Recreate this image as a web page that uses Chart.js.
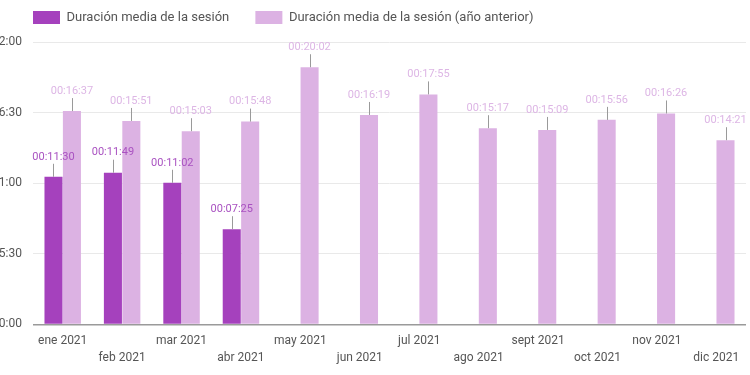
<!DOCTYPE html>
<html>
<head>
<meta charset="utf-8">
<script src="https://cdn.jsdelivr.net/npm/chart.js@4.4.1/dist/chart.umd.min.js"></script>
<style>
  html, body { margin: 0; padding: 0; background: #fff; }
  #wrap { position: relative; width: 750px; height: 375px; }
</style>
</head>
<body>
<div id="wrap"><canvas id="sessionChart"></canvas></div>
<script>
const months = ['ene 2021', 'feb 2021', 'mar 2021', 'abr 2021', 'may 2021', 'jun 2021',
  'jul 2021', 'ago 2021', 'sept 2021', 'oct 2021', 'nov 2021', 'dic 2021'];
const currentYear = ['00:11:30', '00:11:49', '00:11:02', '00:07:25', null, null,
  null, null, null, null, null, null];
const previousYear = ['00:16:37', '00:15:51', '00:15:03', '00:15:48', '00:20:02', '00:16:19',
  '00:17:55', '00:15:17', '00:15:09', '00:15:56', '00:16:26', '00:14:21'];
const yTicks = ['00:00:00', '00:05:30', '00:11:00', '00:16:30', '00:22:00'];

const DARK = '#a541bd';
const LIGHT = '#dcb2e3';

function toSeconds(str) {
  if (str === null) return null;
  const p = str.split(':').map(Number);
  return p[0] * 3600 + p[1] * 60 + p[2];
}

function toClock(sec) {
  const pad = n => String(n).padStart(2, '0');
  return `${pad(Math.floor(sec / 3600))}:${pad(Math.floor(sec / 60) % 60)}:${pad(sec % 60)}`;
}

// bar value labels with a short leader line
const valueLabels = {
  id: 'valueLabels',
  afterDatasetsDraw(chart) {
    const ctx = chart.ctx;
    const colors = ['#a952c1', '#ddb6e5'];
    chart.data.datasets.forEach((ds, di) => {
      const meta = chart.getDatasetMeta(di);
      meta.data.forEach((bar, i) => {
        const v = ds.data[i];
        if (v === null) return;
        ctx.save();
        ctx.strokeStyle = '#9a9a9a';
        ctx.lineWidth = 1;
        ctx.beginPath();
        ctx.moveTo(Math.round(bar.x) + 0.5, bar.y);
        ctx.lineTo(Math.round(bar.x) + 0.5, bar.y - 13);
        ctx.stroke();
        ctx.fillStyle = colors[di];
        ctx.font = '11px Roboto';
        ctx.textAlign = 'center';
        ctx.textBaseline = 'middle';
        ctx.fillText(toClock(v), bar.x, bar.y - 20);
        ctx.restore();
      });
    });
  }
};

// nudge the legend so it lines up with the plot's left edge
const legendShift = {
  id: 'legendShift',
  afterLayout(chart) {
    chart.legend.left += 23;
    chart.legend.right += 23;
    chart.legend.top -= 8;
  }
};

document.addEventListener('DOMContentLoaded', function() {
  const ctx = document.getElementById('sessionChart').getContext('2d');
  const step = toSeconds(yTicks[1]);
  new Chart(ctx, {
    type: 'bar',
    data: {
      labels: months.map((m, i) => i % 2 ? ['', m] : m),
      datasets: [{
        label: 'Duración media de la sesión',
        data: currentYear.map(toSeconds),
        backgroundColor: DARK,
        categoryPercentage: 0.62,
        barPercentage: 0.98
      }, {
        label: 'Duración media de la sesión (año anterior)',
        data: previousYear.map(toSeconds),
        backgroundColor: LIGHT,
        categoryPercentage: 0.62,
        barPercentage: 0.98
      }]
    },
    options: {
      responsive: true,
      maintainAspectRatio: false,
      animation: false,
      layout: { padding: { left: 0, right: 4, top: 9, bottom: 9 } },
      plugins: {
        legend: {
          align: 'start',
          labels: {
            boxWidth: 27,
            boxHeight: 13,
            padding: 10,
            color: '#555',
            font: { family: 'Roboto', size: 13 },
            generateLabels(chart) {
              const items = Chart.defaults.plugins.legend.labels.generateLabels(chart);
              items[0].text += '     ';
              return items;
            }
          }
        },
        tooltip: { enabled: false }
      },
      scales: {
        x: {
          grid: { display: false },
          border: { display: false },
          ticks: {
            color: '#555',
            font: { family: 'Roboto', size: 12, lineHeight: 1.4 },
            maxRotation: 0,
            autoSkip: false,
            padding: 0
          }
        },
        y: {
          min: 0,
          max: toSeconds(yTicks[yTicks.length - 1]),
          afterFit(scale) { scale.width = 33; },
          border: { display: false },
          grid: {
            drawTicks: false,
            color: c => c.tick.value === 0 ? '#9a9a9a' : '#e9e9e9',
            lineWidth: c => c.tick.value === 0 ? 1.5 : 1
          },
          ticks: {
            stepSize: step,
            padding: 11,
            color: '#555',
            font: { family: 'Roboto', size: 12 },
            callback: v => toClock(v)
          }
        }
      }
    },
    plugins: [valueLabels, legendShift]
  });
});
</script>
</body>
</html>
